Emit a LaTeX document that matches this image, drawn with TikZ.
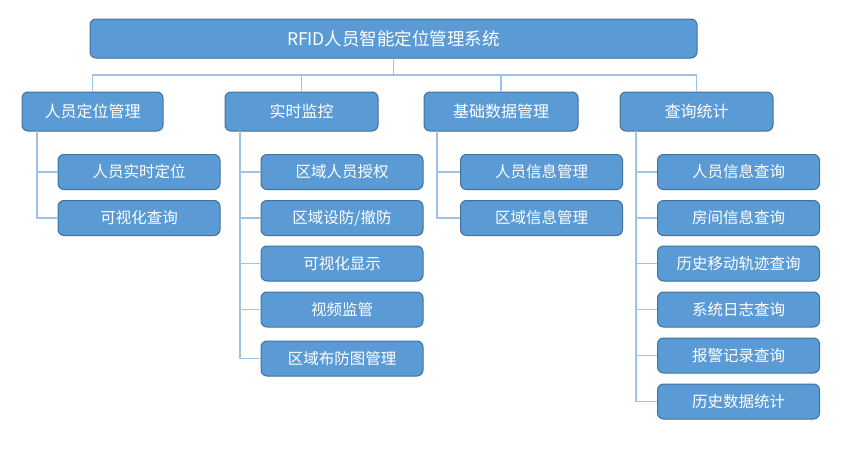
\documentclass[tikz,border=0pt]{standalone}
\usepackage{fontspec}
\newfontfamily\cjk{Noto Sans CJK SC}
\usetikzlibrary{calc}
\definecolor{boxfill}{HTML}{5B9BD5}
\definecolor{boxline}{HTML}{41719C}
\definecolor{linkblue}{HTML}{9DC3E6}

\begin{document}
\begin{tikzpicture}[x=1pt,y=-1pt,font=\cjk,
	box/.style={draw=boxline,fill=boxfill,line width=1pt,rounded corners=6pt,text=white,inner sep=0pt},
	topbox/.style={box,minimum width=607pt,minimum height=39pt,font=\cjk\fontsize{17.5}{20}\selectfont},
	grpbox/.style={box,minimum height=39pt,font=\cjk\fontsize{16}{19}\selectfont},
	subbox/.style={box,minimum width=162pt,minimum height=35pt,font=\cjk\fontsize{15.5}{18}\selectfont},
	link/.style={draw=linkblue,line width=1.2pt}]
\useasboundingbox (0,0) rectangle (859,461);

\node[topbox] (sys) at (393.5,38.5) {RFID人员智能定位管理系统};

\foreach \g/\x/\w/\txt in {g1/92.5/141/人员定位管理,g2/301.5/153/实时监控,g3/501/154/基础数据管理,g4/696.5/153/查询统计}
{
	\node[grpbox,minimum width=\w pt] (\g) at (\x,111.5) {\txt};
}

\coordinate (bus) at (0,75);
\draw[link] (g1.north) -- (g1.north |- bus) -- (g4.north |- bus) -- (g4.north);
\draw[link] (sys.south) -- (sys.south |- bus);
\draw[link] (g2.north) -- (g2.north |- bus);
\draw[link] (g3.north) -- (g3.north |- bus);

\coordinate (sp1) at (37,131);
\coordinate (sp2) at (240,131);
\coordinate (sp3) at (437,131);
\coordinate (sp4) at (636,131);

\foreach \kid/\sp/\cx/\cy/\txt in {
	k11/sp1/139/172/人员实时定位, k12/sp1/139/218/可视化查询,
	k21/sp2/342/172/区域人员授权, k22/sp2/342/218/{区域设防/撤防}, k23/sp2/342/263.5/可视化显示,
	k24/sp2/342/309.5/视频监管, k25/sp2/342/358.5/区域布防图管理,
	k31/sp3/541.5/172/人员信息管理, k32/sp3/541.5/218/区域信息管理,
	k41/sp4/738.5/172/人员信息查询, k42/sp4/738.5/218/房间信息查询, k43/sp4/738.5/263.5/历史移动轨迹查询,
	k44/sp4/738.5/309.5/系统日志查询, k45/sp4/738.5/355.5/报警记录查询, k46/sp4/738.5/401.5/历史数据统计}
{
	\node[subbox] (\kid) at (\cx,\cy) {\txt};
	\draw[link] (\sp) |- (\kid.west);
}

\end{tikzpicture}
\end{document}
